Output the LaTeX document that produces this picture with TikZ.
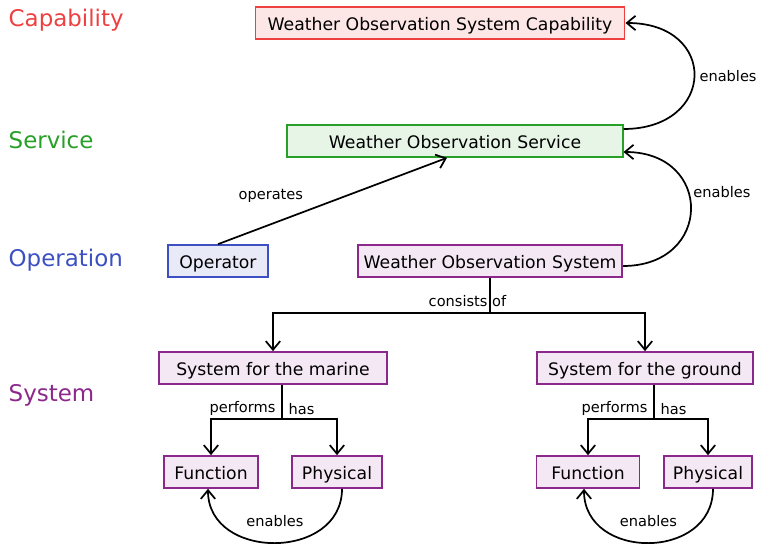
\documentclass[tikz,border=0pt]{standalone}
\usepackage{fontspec}
\setmainfont{DejaVu Sans}
\usepackage{xcolor}
\usetikzlibrary{arrows.meta,calc}

\definecolor{capred}{RGB}{238,64,64}
\definecolor{capfill}{RGB}{253,230,230}
\definecolor{servgreen}{RGB}{40,160,40}
\definecolor{servfill}{RGB}{230,245,230}
\definecolor{opblue}{RGB}{60,80,195}
\definecolor{opfill}{RGB}{232,234,248}
\definecolor{syspurple}{RGB}{140,40,140}
\definecolor{sysfill}{RGB}{245,232,245}

\begin{document}
\begin{tikzpicture}[
  x=0.0265cm, y=-0.0265cm,
  font=\fontsize{11}{13}\selectfont,
  layer/.style={anchor=west, font=\fontsize{17.3}{20}\selectfont},
  box/.style={rectangle, line width=1.5pt, minimum height=0.84cm, inner sep=2pt,
              text height=11.5pt, text depth=0pt, font=\fontsize{13}{15}\selectfont},
  capbox/.style={box, draw=capred,    fill=capfill},
  servbox/.style={box, draw=servgreen, fill=servfill},
  opbox/.style={box, draw=opblue,     fill=opfill},
  sysbox/.style={box, draw=syspurple, fill=sysfill},
  arr/.style={-{Straight Barb[length=2.3mm,width=3.8mm]}, line width=1.3pt},
  line/.style={line width=1.3pt},
]
\useasboundingbox (0,0) rectangle (757,547);

% layer titles
\node[layer, text=capred]    (tcap) at (4,20)  {Capability};
\node[layer, text=servgreen] (tser) at (4,140) {Service};
\node[layer, text=opblue]    (tope) at (4,260) {Operation};
\node[layer, text=syspurple] (tsys) at (4,395) {System};

% boxes
\node[capbox,  minimum width=9.78cm] (cap)    at (440,23)  {Weather Observation System Capability};
\node[servbox, minimum width=8.88cm] (serv)   at (455,141) {Weather Observation Service};
\node[opbox,   minimum width=2.65cm] (oper)   at (218,261) {Operator};
\node[sysbox,  minimum width=7.0cm]  (wos)    at (490,261) {Weather Observation System};
\node[sysbox,  minimum width=6.02cm] (marine) at (273,368) {System for the marine};
\node[sysbox,  minimum width=5.7cm]  (ground) at (645,368) {System for the ground};
\node[sysbox,  minimum width=2.49cm] (mfun)   at (211,472) {Function};
\node[sysbox,  minimum width=2.39cm] (mphy)   at (337,472) {Physical};
\node[sysbox,  minimum width=2.73cm] (gfun)   at (588,472) {Function};
\node[sysbox,  minimum width=2.31cm] (gphy)   at (708,472) {Physical};

% enables between layers
\draw[arr] ($(serv.east)+(0,-12)$) .. controls +(93,0) and +(93,0) ..
  node[pos=0.5, right=0pt] {enables} (cap.east);
\draw[arr] ($(wos.east)+(0,5)$) .. controls +(90,0) and +(90,0) ..
  node[pos=0.6, right=0pt] {enables} ($(serv.east)+(0,11)$);

% operates
\draw[arr] (oper.north) -- node[pos=0.4, above left=1pt] {operates} ($(serv.south)+(-8,0)$);

% consists of
\coordinate (wj) at (490,313);
\draw[line] (wos.south) -- node[pos=0.65, xshift=-17pt] {consists of} (wj);
\draw[arr] (wj) -| (marine.north);
\draw[arr] (wj) -| (ground.north);

% marine subtree
\coordinate (mj) at (282,419);
\draw[line] (mj |- marine.south) -- node[pos=0.7, left=1pt] {performs}
  node[pos=0.7, right=1pt] {has} (mj);
\draw[arr] (mj) -| (mfun.north);
\draw[arr] (mj) -| (mphy.north);
\draw[arr] ($(mphy.south)+(5,0)$) .. controls +(0,72) and +(0,72) ..
  node[pos=0.5, above=8pt] {enables} ($(mfun.south)+(-3,0)$);

% ground subtree
\coordinate (gj) at (654,419);
\draw[line] (gj |- ground.south) -- node[pos=0.7, left=1pt] {performs}
  node[pos=0.7, right=1pt] {has} (gj);
\draw[arr] (gj) -| (gfun.north);
\draw[arr] (gj) -| (gphy.north);
\draw[arr] ($(gphy.south)+(5,0)$) .. controls +(0,72) and +(0,72) ..
  node[pos=0.5, above=8pt] {enables} ($(gfun.south)+(-4,0)$);
\end{tikzpicture}
\end{document}
